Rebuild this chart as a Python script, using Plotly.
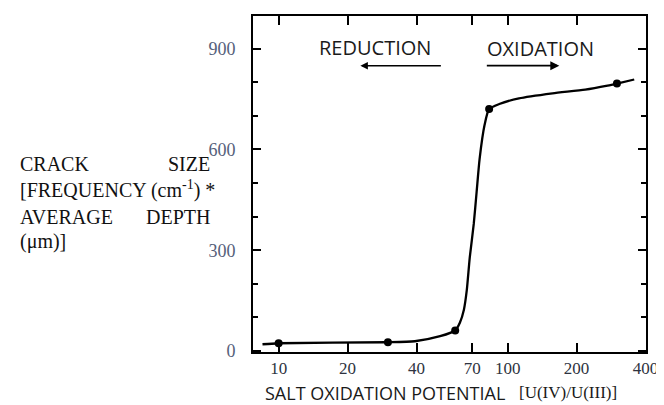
import plotly.graph_objects as go

# measured data points
pt_x = [10, 30, 59, 83, 300]
pt_y = [23, 26, 61, 720, 796]

# hand-traced curve through the points
curve_x = [8.5, 10, 29.4, 39.3, 50.7, 59, 61.9, 64.4, 66.3, 68.3, 71.1, 73.2, 75.4, 79.3, 83,
           91.9, 112, 157, 218, 273, 300, 357]
curve_y = [20, 23, 26, 29, 44, 61, 85, 123, 181, 278, 378, 474, 571, 673, 720,
           735, 752, 767, 778, 790, 796, 808]

x_ticks = [10, 20, 40, 70, 100, 200, 400]
y_ticks = [0, 300, 600, 900]

# page has an 8px body margin; work in window pixels and compensate
OFF = 8
W, H = 664 - OFF, 405 - OFF
L, R, T, B = 253 - OFF, 12, 14 - OFF, 53
PW, PH = W - L - R, H - T - B


def px(x):
    return (x - OFF - L) / PW


def py(y):
    return (H - B - (y - OFF)) / PH


fig = go.Figure()
fig.add_trace(go.Scatter(x=curve_x, y=curve_y, mode="lines",
                         line=dict(color="black", width=2.3, shape="spline", smoothing=0.6),
                         hoverinfo="skip", showlegend=False))
fig.add_trace(go.Scatter(x=pt_x, y=pt_y, mode="markers",
                         marker=dict(color="black", size=8), showlegend=False))

serif = "Liberation Serif, Times New Roman, serif"
sans = "Open Sans, Noto Sans, sans-serif"

fig.update_xaxes(type="log", range=[0.888, 2.604], tickvals=x_ticks,
                 ticktext=[str(v) for v in x_ticks],
                 ticks="inside", ticklen=9, tickwidth=1.5, tickcolor="black",
                 showline=True, linecolor="black", linewidth=2, mirror="allticks",
                 showgrid=False, zeroline=False,
                 tickfont=dict(family=serif, size=17, color="#2e3340"),
                 ticklabelstandoff=0, ticklabeloverflow="allow")
fig.update_yaxes(range=[-3, 997], tickvals=y_ticks,
                 ticks="inside", ticklen=8, tickwidth=1.5, tickcolor="black",
                 minor=dict(dtick=100, tick0=0, ticks="inside", ticklen=5, tickcolor="black"),
                 showline=True, linecolor="black", linewidth=2, mirror="allticks",
                 showgrid=False, zeroline=False,
                 tickfont=dict(family=serif, size=18, color="#55607a"),
                 ticklabelstandoff=12)

ann = []


def text(s, x, y, xanchor="left", family=serif, size=20, color="#111"):
    ann.append(dict(text=s, x=px(x), y=py(y), xref="paper", yref="paper",
                    xanchor=xanchor, yanchor="middle", showarrow=False,
                    font=dict(family=family, size=size, color=color)))


text("CRACK", 14, 163)
text("SIZE", 211, 163, "right")
text("[FREQUENCY (cm<sup>-1</sup>) *", 14, 189)
text("AVERAGE", 14, 216)
text("DEPTH", 211, 216, "right")
text("(μm)]", 14, 241)

text("REDUCTION", 377, 46, "center", sans, 20, "#1a1a1a")
text("OXIDATION", 545, 47, "center", sans, 20, "#1a1a1a")

text("SALT OXIDATION POTENTIAL", 263, 393, "left", sans, 18, "#1a1a1a")
text("[U(IV)/U(III)]", 521, 393, "left", serif, 17, "#1a1a1a")

# arrows
ann.append(dict(x=px(362), y=py(64), xref="paper", yref="paper", text="",
                showarrow=True, ax=82, ay=0, arrowhead=2, arrowsize=1,
                arrowwidth=1.5, arrowcolor="black"))
ann.append(dict(x=px(564), y=py(64), xref="paper", yref="paper", text="",
                showarrow=True, ax=-74, ay=0, arrowhead=2, arrowsize=1,
                arrowwidth=1.8, arrowcolor="black"))

fig.update_layout(width=W, height=H, margin=dict(l=L, r=R, t=T, b=B),
                  plot_bgcolor="white", paper_bgcolor="white",
                  annotations=ann, showlegend=False)

fig.write_html("out.html")
